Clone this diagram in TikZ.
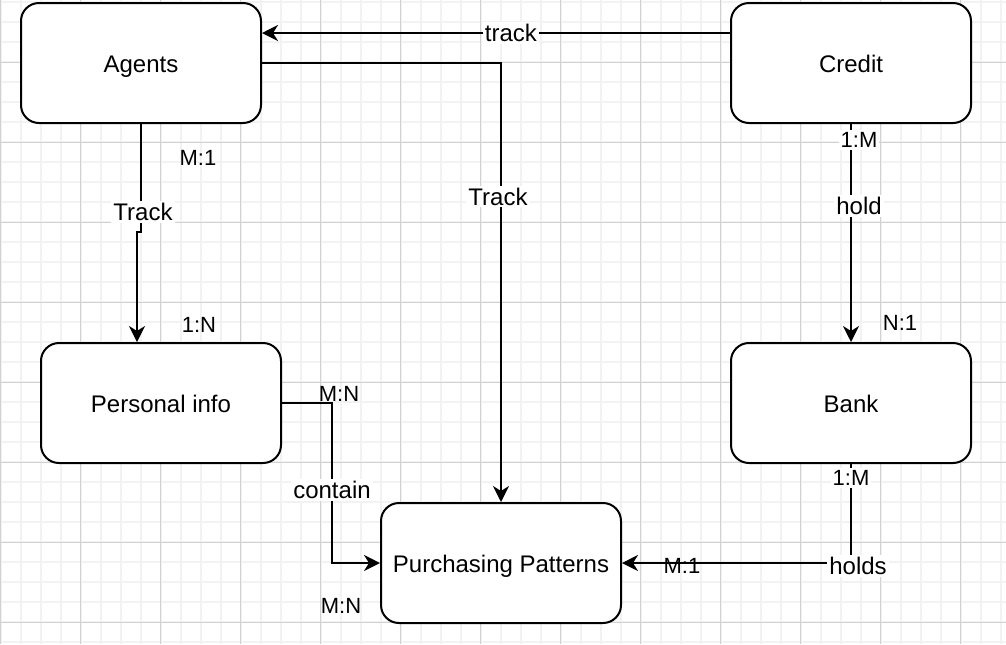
\documentclass[tikz,border=0pt]{standalone}
\usepackage{fontspec}
\setmainfont{Liberation Sans}
\usetikzlibrary{arrows.meta}

\tikzset{
  minorline/.style={color=black!5, line width=1pt},
  majorline/.style={color=black!18, line width=0.5pt},
  entity/.style={draw, line width=1pt, rounded corners=9pt, fill=white, minimum width=120pt, minimum height=60pt, text height=9.5pt, text depth=0pt, font=\fontsize{12}{14}\selectfont},
  link/.style={line width=1pt, -{Stealth[length=8pt, width=8pt, inset=2.5pt]}},
  lbl/.style={fill=white, inner sep=1pt, font=\fontsize{12}{14}\selectfont},
  card/.style={inner sep=0pt, font=\fontsize{11}{13}\selectfont}
}

\begin{document}
\begin{tikzpicture}[x=0.5pt, y=-0.5pt]
  \useasboundingbox (0,0) rectangle (1006,644);
  % grid background
  \fill[white] (0,0) rectangle (1006,644);
  \foreach \gx in {0.5,20.5,...,1000.5} \draw[minorline] (\gx,0) -- (\gx,644);
  \foreach \gy in {2.3,22.3,...,642.3} \draw[minorline] (0,\gy) -- (1006,\gy);
  \foreach \gx in {0.5,80.5,...,960.5} \draw[majorline] (\gx,0) -- (\gx,644);
  \foreach \gy in {62.3,142.3,...,622.3} \draw[majorline] (0,\gy) -- (1006,\gy);

  % entities
  \node[entity] (agents) at (141,63) {Agents};
  \node[entity] (credit) at (851,63) {Credit};
  \node[entity] (personal) at (161,403) {Personal info};
  \node[entity] (bank) at (851,403) {Bank};
  \node[entity] (patterns) at (501,563) {Purchasing Patterns};

  % relations
  \draw[link] ([yshift=15pt]credit.west) -- ([yshift=15pt]agents.east) node[lbl, pos=0.468] {track};
  \draw[link] (agents.east) -| (patterns.north) node[lbl, pos=0.652, xshift=-1.5pt] {Track};
  \draw[link] (agents.south) -- ++(0,108) node[lbl, pos=0.815, xshift=1pt] {Track} -| ([xshift=-12pt]personal.north);
  \draw[link] (personal.east) -- ++(50,0) |- node[lbl, pos=0.272] {contain} (patterns.west);
  \draw[link] (credit.south) -- (bank.north) node[lbl, pos=0.377, xshift=4pt] {hold};
  \draw[link] (bank.south) |- (patterns.east) node[lbl, pos=0.5, xshift=3.5pt, yshift=-1.5pt] {holds};

  % cardinalities
  \node[card] (c1) at (198,158) {M:1};
  \node[card] (c2) at (199,325) {1:N};
  \node[card] (c3) at (339,394) {M:N};
  \node[card] (c4) at (341,606) {M:N};
  \node[card, fill=white, inner sep=1pt] (c5) at (859,140) {1:M};
  \node[card] (c6) at (900,323) {N:1};
  \node[card, fill=white, inner sep=1pt] (c7) at (851,478) {1:M};
  \node[card] (c8) at (682,566) {M:1};
\end{tikzpicture}
\end{document}
